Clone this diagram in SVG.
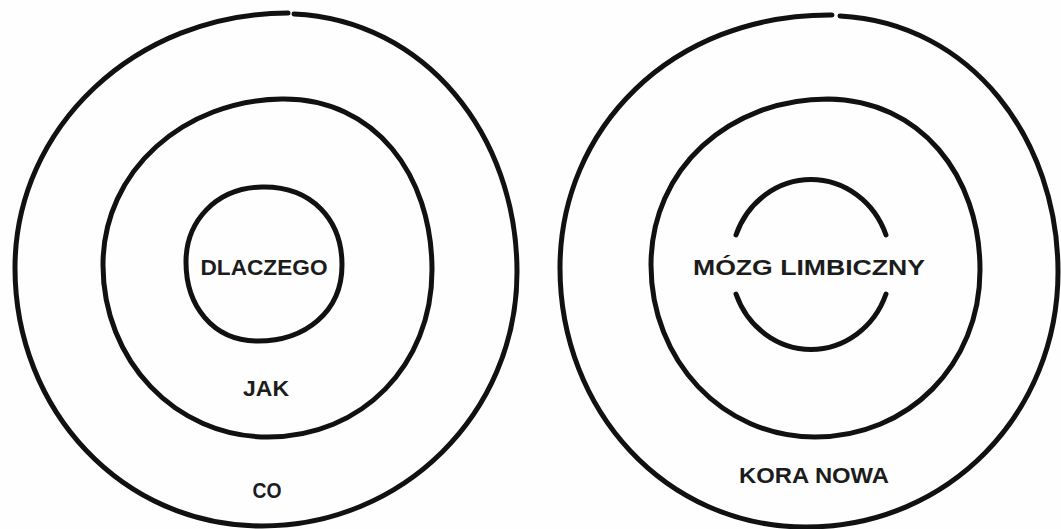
<svg xmlns="http://www.w3.org/2000/svg" width="1061" height="529" viewBox="0 0 1061 529">
<style>
.ring{fill:none;stroke:#111;stroke-width:5;stroke-linecap:round;stroke-linejoin:round}
.lbl{font-family:"Liberation Sans",Arial,sans-serif;font-weight:bold;font-size:22px;fill:#1c1c1c;text-anchor:middle}
</style>
<rect width="1061" height="529" fill="#fefefe"/>
<g id="left-outer">
<path class="ring" d="M 294 14 C 425 20, 517 135, 517 272 C 517 414, 402 526, 262 526 C 122 526, 15 410, 15 268 C 15 128, 135 13, 288 13"/>
<text class="lbl" x="267" y="498" textLength="29" lengthAdjust="spacingAndGlyphs">CO</text>
</g>
<g id="left-middle">
<path class="ring" d="M 282 99 C 375 98, 432 175, 432 270 C 432 365, 362 437, 268 437 C 175 437, 103 360, 103 265 C 103 170, 185 100, 282 99 Z"/>
<text class="lbl" x="266" y="396" textLength="46" lengthAdjust="spacingAndGlyphs">JAK</text>
</g>
<g id="left-inner">
<path class="ring" d="M 262 187 C 312 186, 342 220, 342 265 C 342 312, 305 341, 258 341 C 212 341, 186 305, 186 262 C 186 222, 215 188, 262 187 Z"/>
<text class="lbl" x="264" y="275" textLength="127" lengthAdjust="spacingAndGlyphs">DLACZEGO</text>
</g>
<g id="right-outer">
<path class="ring" d="M 840 16 C 972 23, 1058 140, 1058 272 C 1058 412, 950 527, 806 527 C 665 527, 560 410, 560 268 C 560 130, 670 14, 832 15"/>
<text class="lbl" x="814" y="483" textLength="150" lengthAdjust="spacingAndGlyphs">KORA NOWA</text>
</g>
<g id="right-middle">
<path class="ring" d="M 828 99 C 920 100, 980 175, 980 270 C 980 365, 908 437, 815 437 C 722 437, 651 360, 651 265 C 651 168, 730 99, 828 99 Z"/>
</g>
<g id="right-inner">
<path class="ring" d="M 736 235 A 80 85 0 0 1 886 235"/>
<path class="ring" d="M 736 294 A 80 85 0 0 0 886 294"/>
<text class="lbl" x="809" y="275" textLength="232" lengthAdjust="spacingAndGlyphs">MÓZG LIMBICZNY</text>
</g>
</svg>
